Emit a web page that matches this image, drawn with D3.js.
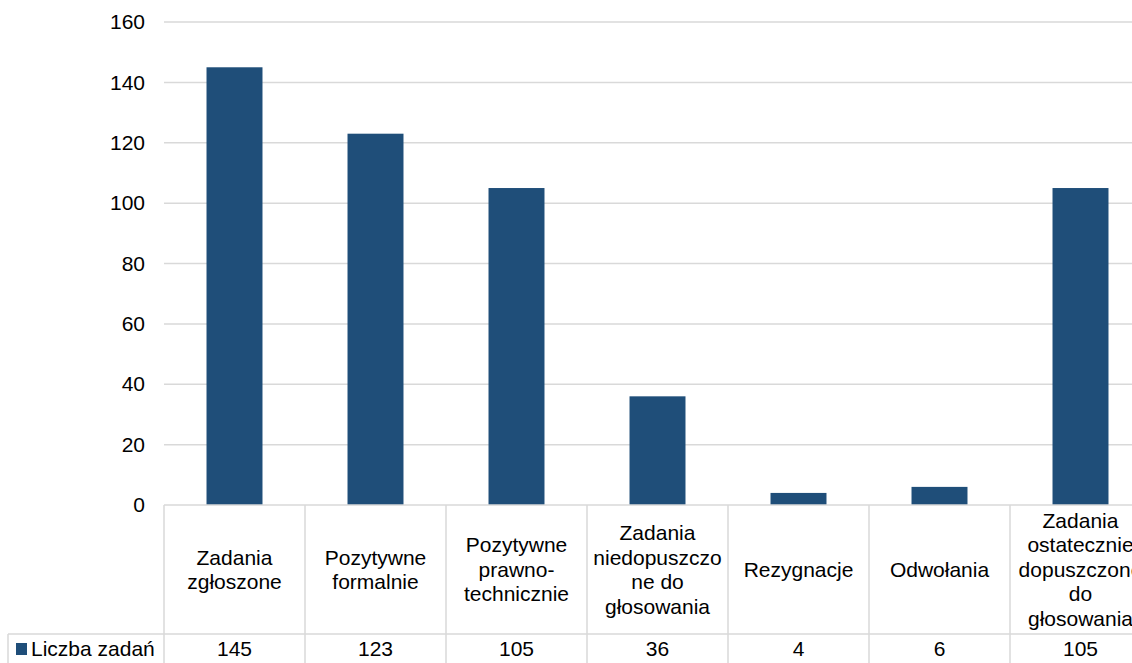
<!DOCTYPE html>
<html><head><meta charset="utf-8">
<script src="https://cdn.jsdelivr.net/npm/d3@7"></script>
<style>
html,body{margin:0;padding:0;background:#fff;overflow:hidden;}
svg{display:block;font-family:"Liberation Sans",Arial,sans-serif;}
</style></head>
<body><svg id="chart" width="1132" height="663"></svg>
<script>
const categories = ["Zadania zgłoszone","Pozytywne formalnie","Pozytywne prawno-technicznie","Zadania niedopuszczone do głosowania","Rezygnacje","Odwołania","Zadania ostatecznie dopuszczone do głosowania"];
const categoryLines = [
  ["Zadania","zgłoszone"],
  ["Pozytywne","formalnie"],
  ["Pozytywne","prawno-","technicznie"],
  ["Zadania","niedopuszczo","ne do","głosowania"],
  ["Rezygnacje"],
  ["Odwołania"],
  ["Zadania","ostatecznie","dopuszczone","do","głosowania"]
];
const seriesName = "Liczba zadań";
const values = [145,123,105,36,4,6,105];
const yTicks = [0,20,40,60,80,100,120,140,160];

(function(){
const svg = d3.select("#chart");
const fs = 21;
const left = 164, step = 141, plotTop = 22, plotBottom = 505;
const tableMid = 634, tableBottom = 663;
const x = d3.scaleBand().domain(categories).range([left, left + step*categories.length])
  .paddingInner(0.603).paddingOuter(0.3015);
const y = d3.scaleLinear().domain([0,160]).range([plotBottom, plotTop]);
const grid = "#d9d9d9", barColor = "#1f4e79";

// gridlines
svg.append("g").selectAll("line").data(yTicks.filter(d=>d>0)).join("line")
  .attr("x1", left).attr("x2", 1132)
  .attr("y1", d=>y(d)).attr("y2", d=>y(d))
  .attr("stroke", grid).attr("stroke-width", 1.5);

// y axis labels
const yAxis = d3.axisLeft(y).tickValues(yTicks).tickSize(0).tickPadding(19);
const ga = svg.append("g").attr("transform", `translate(${left},0)`).call(yAxis);
ga.select(".domain").remove();
ga.selectAll("text").attr("font-size", fs).attr("fill", "#000")
  .attr("font-family", "Liberation Sans, Arial, sans-serif");

// bars
svg.append("g").selectAll("rect").data(values).join("rect")
  .attr("x", (d,i)=>x(categories[i])).attr("width", x.bandwidth())
  .attr("y", d=>y(d)).attr("height", d=>y(0)-y(d))
  .attr("fill", barColor);

// table lines
const tl = svg.append("g").attr("stroke", grid).attr("stroke-width", 1.5);
tl.append("line").attr("x1", left).attr("x2", 1132).attr("y1", plotBottom).attr("y2", plotBottom);
tl.append("line").attr("x1", 8).attr("x2", 1132).attr("y1", tableMid).attr("y2", tableMid);
tl.append("line").attr("x1", 8).attr("x2", 8).attr("y1", tableMid).attr("y2", tableBottom);
tl.selectAll(".v").data(d3.range(categories.length+1)).join("line")
  .attr("x1", i=>left+i*step).attr("x2", i=>left+i*step)
  .attr("y1", plotBottom).attr("y2", tableBottom);

// category labels
const lh = 24.5, cmid = (plotBottom+tableMid)/2;
const cl = svg.append("g").attr("font-size", fs).attr("fill", "#000").attr("text-anchor", "middle");
categories.forEach((c,i)=>{
  const lines = categoryLines[i];
  const cx = x(c) + x.bandwidth()/2;
  const t = cl.append("text").attr("x", cx);
  lines.forEach((ln,j)=>{
    t.append("tspan").attr("x", cx)
     .attr("y", cmid + (j - (lines.length-1)/2)*lh)
     .attr("dy", "0.35em").text(ln);
  });
});

// values row
const vmid = (tableMid + tableBottom)/2;
svg.append("g").attr("font-size", fs).attr("fill", "#000").attr("text-anchor", "middle")
  .selectAll("text").data(values).join("text")
  .attr("x", (d,i)=>x(categories[i]) + x.bandwidth()/2)
  .attr("y", vmid).attr("dy", "0.35em").text(d=>d);

// legend key
svg.append("rect").attr("x", 16).attr("y", 643).attr("width", 11).attr("height", 12).attr("fill", barColor);
svg.append("text").attr("x", 31).attr("y", vmid).attr("dy", "0.35em")
  .attr("font-size", fs).attr("fill", "#000").text(seriesName);
})();
</script></body></html>
